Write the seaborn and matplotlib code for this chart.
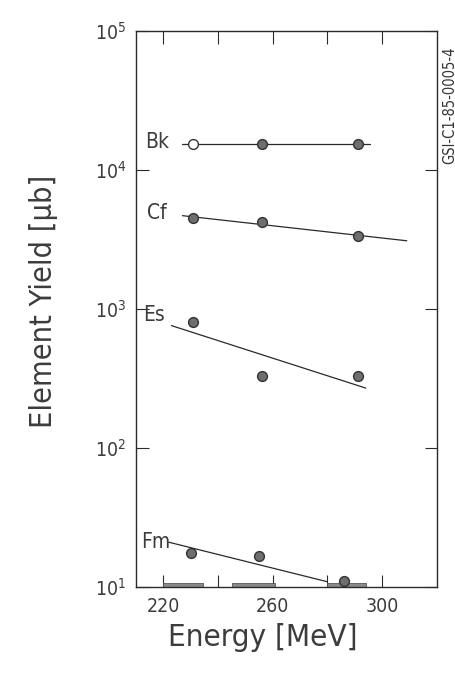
import matplotlib
matplotlib.use("Agg")
import matplotlib.pyplot as plt
import seaborn as sns
import pandas as pd

# ---- data ----
energy = [231, 256, 291]
bk_yield = [1.55e4, 1.55e4, 1.55e4]
cf_yield = [4.5e3, 4.2e3, 3.35e3]
es_yield = [805, 330, 330]
fm_energy = [230, 255, 286]
fm_yield = [17.6, 16.7, 11.0]

bk_fit_x = [227, 295.5]; bk_fit_y = [1.55e4, 1.55e4]
cf_fit_x = [227, 309];   cf_fit_y = [4.7e3, 3.1e3]
es_fit_x = [223, 294];   es_fit_y = [760, 270]
fm_fit_x = [222, 280];   fm_fit_y = [21, 10.9]

bar_start = [220, 245, 280]
bar_end = [234.5, 261, 294]
bar_top = 10.7

elements = ["Bk", "Cf", "Es", "Fm"]
label_x = [213.5, 214, 212.5, 212]
label_y = [1.6e4, 4.9e3, 900, 21]

x_ticks = [220, 260, 300]
x_minor = [240, 280]
y_ticks = [10, 100, 1000, 1e4, 1e5]
y_ticklabels = [r"$10^1$", r"$10^2$", r"$10^3$", r"$10^4$", r"$10^5$"]

sns.set_theme(style="ticks")
plt.rcParams["font.family"] = ["DejaVu Sans"]
plt.rcParams["font.stretch"] = "condensed"
plt.rcParams["mathtext.fontset"] = "custom"
plt.rcParams["mathtext.rm"] = "DejaVu Sans:stretch=condensed"
ink = "#2a2a2a"
txt = "#3c3c3c"

fig = plt.figure(figsize=(4.56, 6.77), dpi=100)
ax = fig.add_axes([0.298, 0.133, 0.660, 0.821])

pts = pd.DataFrame({
    "E": energy * 3 + fm_energy,
    "Y": bk_yield + cf_yield + es_yield + fm_yield,
    "el": ["Bk"] * 3 + ["Cf"] * 3 + ["Es"] * 3 + ["Fm"] * 3,
})
fits = pd.DataFrame({
    "E": bk_fit_x + cf_fit_x + es_fit_x + fm_fit_x,
    "Y": bk_fit_y + cf_fit_y + es_fit_y + fm_fit_y,
    "el": ["Bk"] * 2 + ["Cf"] * 2 + ["Es"] * 2 + ["Fm"] * 2,
})

for s, e in zip(bar_start, bar_end):
    ax.fill_between([s, e], 10, bar_top, color="#8a8a8a", lw=0.6,
                    edgecolor="#555555", zorder=2)

sns.lineplot(data=fits, x="E", y="Y", units="el", estimator=None,
             color=ink, lw=0.9, ax=ax, zorder=3)
filled = pts.iloc[1:]
sns.scatterplot(data=filled, x="E", y="Y", color="#6e6e6e", edgecolor="#333333",
                linewidth=1.0, s=50, ax=ax, zorder=4)
first = pts.iloc[:1]
sns.scatterplot(data=first, x="E", y="Y", color="white", edgecolor="#333333",
                linewidth=1.0, s=50, ax=ax, zorder=4)

for el, lx, ly in zip(elements, label_x, label_y):
    ax.text(lx, ly, el, fontsize=15, color=txt, ha="left", va="center")

ax.set_yscale("log")
ax.set_xlim(210, 320)
ax.set_ylim(10, 1e5)
ax.set_xticks(x_ticks)
ax.set_xticks(x_minor, minor=True)
ax.set_yticks(y_ticks)
ax.set_yticklabels(y_ticklabels)
ax.yaxis.set_minor_locator(matplotlib.ticker.NullLocator())
ax.tick_params(axis="both", which="both", direction="in", top=True, right=True,
               color=ink, width=0.8)
ax.tick_params(axis="both", which="major", length=9, labelsize=14,
               labelcolor=txt, pad=7)
ax.tick_params(axis="x", which="minor", length=9)
for sp in ax.spines.values():
    sp.set_color(ink)
    sp.set_linewidth(1.0)

ax.set_xlabel("Energy [MeV]", fontsize=22.5, color=txt)
ax.xaxis.set_label_coords(0.42, -0.064)
ax.set_ylabel("Element Yield [μb]", fontsize=22, color=txt)
ax.yaxis.set_label_coords(-0.259, 0.514)

fig.text(0.986, 0.845, "GSI-C1-85-0005-4", rotation=90, fontsize=10.5,
         color="#333333", ha="center", va="center")

fig.savefig("out.png", dpi=100)
